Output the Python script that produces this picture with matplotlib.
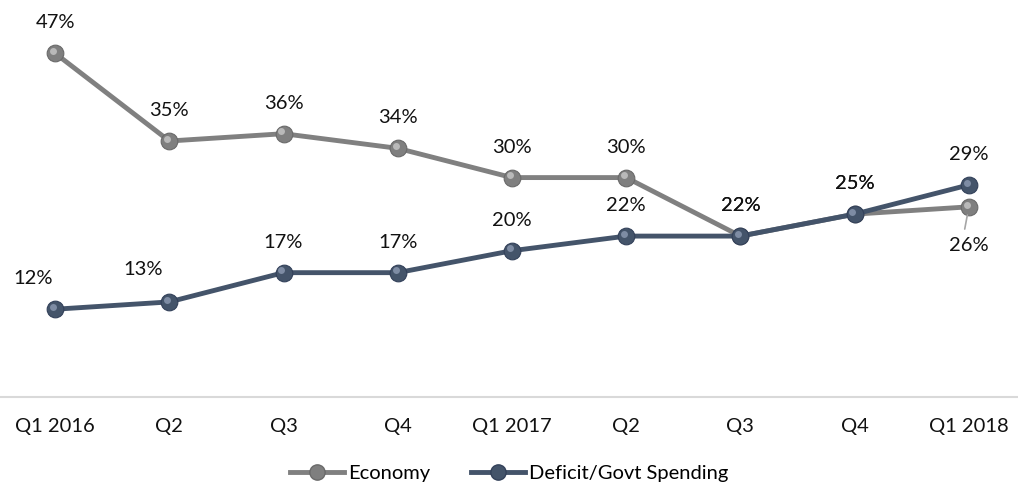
import matplotlib.pyplot as plt
from matplotlib.lines import Line2D
from matplotlib.transforms import ScaledTranslation

quarters = ["Q1 2016", "Q2", "Q3", "Q4", "Q1 2017", "Q2", "Q3", "Q4", "Q1 2018"]
economy = [47, 35, 36, 34, 30, 30, 22, 25, 26]
deficit = [12, 13, 17, 17, 20, 22, 22, 25, 29]

# label offsets in points (dx, dy)
economy_offsets = [(0, 22)] * 8 + [(0, -28)]
deficit_offsets = [(-16, 22), (-19, 23)] + [(0, 22)] * 7

plt.rcParams['font.family'] = ['Lato', 'DejaVu Sans']
FS = 14.5

fig = plt.figure(figsize=(10.18, 4.93), dpi=100)
ax = fig.add_axes([-0.002, 96 / 493, 1.026 / 1.018 + 0.002, 397 / 493])
x = list(range(len(quarters)))


def draw_series(values, line_color, face, shine, edge, offsets, z):
    ax.plot(x, values, color=line_color, lw=3.5, zorder=z, solid_capstyle='round')
    ax.plot(x, values, ls='none', marker='o', ms=12, mfc=face, mec=edge,
            mew=0.8, zorder=z + 0.1)
    hl = ax.transData + ScaledTranslation(-1.6 / 72, 1.6 / 72, fig.dpi_scale_trans)
    ax.plot(x, values, ls='none', marker='o', ms=5, mfc=shine, mec='none',
            alpha=0.8, transform=hl, zorder=z + 0.2)
    for xi, v, (dx, dy) in zip(x, values, offsets):
        ax.annotate(f"{v}%", (xi, v), xytext=(dx, dy), textcoords='offset points',
                    ha='center', va='center', fontsize=FS, color='#111111',
                    zorder=5)


draw_series(economy, '#808080', '#7f7f7f', '#c8c8c8', '#6a6a6a', economy_offsets, 2)
draw_series(deficit, '#44546A', '#44546A', '#8d9bb3', '#33415a', deficit_offsets, 3)

# leader line for the 26% label
ax.annotate("", (8, economy[8]), xytext=(-3, -16), textcoords='offset points',
            arrowprops=dict(arrowstyle='-', color='#a6a6a6', lw=1.2,
                            shrinkA=0, shrinkB=6))

ax.set_xlim(-0.5, 8.5)
ax.set_ylim(0, 397 / 7.314)
ax.set_xticks(x)
ax.set_xticklabels(quarters, fontsize=FS, color='#111111')
ax.set_yticks([])
ax.tick_params(axis='x', length=0, pad=15)
for s in ['top', 'left', 'right']:
    ax.spines[s].set_visible(False)
ax.spines['bottom'].set_color('#d9d9d9')
ax.spines['bottom'].set_linewidth(1.5)
ax.patch.set_alpha(0)

handles = [
    Line2D([], [], color='#808080', lw=3.5, marker='o', ms=11, mfc='#7f7f7f', mec='#6a6a6a'),
    Line2D([], [], color='#44546A', lw=3.5, marker='o', ms=11, mfc='#44546A', mec='#33415a'),
]
fig.legend(handles, ["Economy", "Deficit/Govt Spending"], loc='lower center',
           bbox_to_anchor=(0.5, -0.015), ncol=2, frameon=False, fontsize=FS,
           handlelength=2.7, handletextpad=0.2, columnspacing=2.0)

fig.savefig("out.png", dpi=100)
